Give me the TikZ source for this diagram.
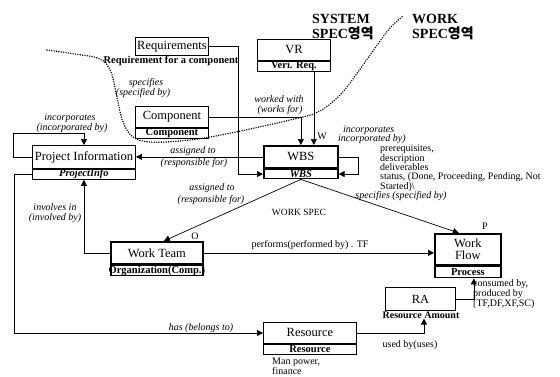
\documentclass[tikz,border=0pt]{standalone}
\usepackage{fontspec}
\setmainfont{Liberation Serif}
\newfontfamily\krfont{Noto Sans CJK KR}
\usetikzlibrary{arrows.meta}

\tikzset{
  ent/.style={draw, line width=0.9pt, inner sep=0pt, anchor=north west,
    font=\fontsize{12.5}{11.5}\selectfont},
  bold ent/.style={ent, line width=1.7pt},
  sub/.style={draw, line width=0.9pt, inner sep=0pt, anchor=north,
    minimum height=10pt, font=\bfseries\fontsize{10.5}{11}\selectfont},
  bold sub/.style={sub, line width=1.7pt},
  rel/.style={inner sep=0pt, font=\itshape\fontsize{10}{11}\selectfont},
  note/.style={inner sep=0pt, font=\fontsize{10}{10}\selectfont},
  title/.style={inner sep=0pt, anchor=base west, font=\bfseries\fontsize{14}{15}\selectfont},
  link/.style={-{Triangle[length=6pt,width=6pt]}, line width=0.7pt},
  zone/.style={line width=1.6pt, line cap=round, dash pattern=on 0pt off 2.4pt}
}

\begin{document}
\begin{tikzpicture}[x=1pt, y=-1pt]
  \useasboundingbox (0,0) rectangle (560,376);

  % area titles
  \node[title] (sys1) at (312,23) {SYSTEM};
  \node[title] (sys2) at (312,38) {SPEC{\krfont 영역}};
  \node[title] (wk1) at (412,23) {WORK};
  \node[title] (wk2) at (412,38) {SPEC{\krfont 영역}};

  % boundary between the two areas
  \draw[zone] plot[smooth, tension=0.6] coordinates {(47,50) (75,54) (100,59) (111,72)
    (117,98) (123,122) (133,137) (150,142) (180,141) (210,137) (250,129) (290,120)
    (318,112) (340,95) (358,72) (375,48) (390,28) (403,16)};

  % entities
  \node[ent, minimum width=73pt, minimum height=18pt] (req) at (135,37) {Requirements};
  \node[note, font=\bfseries\fontsize{10.5}{11}\selectfont] (reqs) at (171,61) {Requirement for a component};

  \node[ent, minimum width=73pt, minimum height=21pt] (vr) at (257,39) {VR};
  \node[sub, minimum width=73pt] (vrs) at (vr.south) {Veri. Req.};

  \node[ent, minimum width=73pt, minimum height=21pt] (comp) at (135,106) {Component};
  \node[sub, minimum width=73pt] (comps) at (comp.south) {Component};

  \node[ent, minimum width=103pt, minimum height=23pt] (pi) at (32,145) {Project Information};
  \node[sub, minimum width=103pt] (pis) at (pi.south) {\itshape ProjectInfo};

  \node[bold ent, minimum width=74pt, minimum height=22pt] (wbs) at (263,145) {WBS};
  \node[bold sub, minimum width=74pt, minimum height=9pt] (wbss) at (wbs.south) {\itshape WBS};

  \node[bold ent, minimum width=92pt, minimum height=22pt] (wt) at (110,241) {Work Team};
  \node[bold sub, minimum width=92pt] (wts) at (wt.south) {\makebox[0pt]{Organization(Comp.)}};

  \node[bold ent, minimum width=66pt, minimum height=31pt, align=center] (wf) at (434,233) {Work\\Flow};
  \node[bold sub, minimum width=66pt, minimum height=11pt] (wfs) at (wf.south) {Process};

  \node[ent, minimum width=70pt, minimum height=23pt] (ra) at (385,287) {RA};
  \node[note, font=\bfseries\fontsize{10}{11}\selectfont] (ras) at (421,315) {Resource Amount};

  \node[ent, minimum width=93pt, minimum height=21pt] (res) at (263,322) {Resource};
  \node[sub, minimum width=93pt] (ress) at (res.south) {Resource};

  % relations
  \path ([xshift=13pt]wbs.north) coordinate (wbsin);
  \draw[link] (req.east) -- ++(29,0) |- (wbss.west);
  \draw[link] (comp.east) -| (wbs.north);
  \draw[link] (wbsin |- vrs.south) -- (wbsin);
  \draw[link] (wbs.west) -- (wbs.west -| pi.east);
  \draw[link] (wbs.east) -- ++(20,0) |- (wbss.east);
  \draw[link] (wbss.south) -- ([xshift=7pt]wt.north);
  \draw[link] (wbss.south) -- ([xshift=-9pt]wf.north);
  \draw[link] (pi.west) -- ++(-19,0) -- ++(0,-24) -| (pi.north);
  \draw[link] (wt.west) -| (pis.south);
  \draw[link] (pis.west) -- ++(-18,0) |- (res.west);
  \draw[link] (wt.east) -- (wt.east -| wf.west);
  \draw[link] (res.east) -| ([xshift=3pt]ras.south);
  \draw[link] (ra.east) -| ([xshift=6pt]wfs.south);

  % relation labels
  \node[rel] (spc1) at (146,83) {specifies};
  \node[rel] (spc2) at (143,93) {(specified by)};
  \node[rel] (inc1) at (70,118) {incorporates};
  \node[rel] (inc2) at (72,128) {(incorporated by)};
  \node[rel] (asg1) at (193,151) {assigned to};
  \node[rel] (asg2) at (194,163) {(responsible for)};
  \node[rel] (wrk1) at (279,99) {worked with};
  \node[rel] (wrk2) at (280,110) {(works for)};
  \node[note] (wlab) at (322,136) {W};
  \node[rel, anchor=west] (inc3) at (343,130) {incorporates};
  \node[rel, anchor=west] (inc4) at (338,139.5) {incorporated by)};
  \node[note, anchor=north west, align=left, font=\fontsize{10}{9.3}\selectfont] (attr) at (380,145) {prerequisites,\\description\\deliverables\\status, (Done, Proceeding, Pending, Not\\Started)\textbackslash};
  \node[rel] (asg3) at (212,188) {assigned to};
  \node[rel] (asg4) at (211,200) {(responsible for)};
  \node[note, font=\fontsize{9.5}{10}\selectfont] (wspec) at (299,212) {WORK SPEC};
  \node[rel] (spc3) at (401,196) {specifies (specified by)};
  \node[rel] (inv1) at (55,207) {involves in};
  \node[rel] (inv2) at (55,218) {(involved by)};
  \node[note] (olab) at (195,236) {O};
  \node[note] (plab) at (485,226) {P};
  \node[note] (perf) at (310,245) {performs(performed by) . TF};
  \node[rel] (has) at (201,328) {has (belongs to)};
  \node[note] (used) at (410,345) {used by(uses)};
  \node[note, anchor=north west, align=left] (cons) at (473,279) {consumed by,\\produced by\\{[}TF,DF,XF,SC)};
  \node[note, anchor=north west, align=left] (manp) at (272,358) {Man power,\\finance};
\end{tikzpicture}
\end{document}
